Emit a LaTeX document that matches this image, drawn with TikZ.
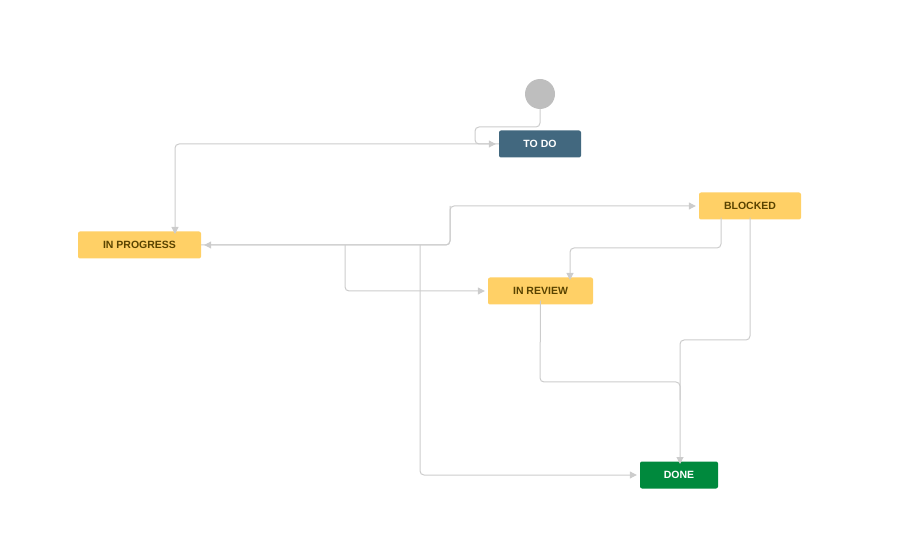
\documentclass[tikz,border=0pt]{standalone}
\usepackage{fontspec}
\setmainfont{Liberation Sans}
\usetikzlibrary{arrows.meta}
\definecolor{edge}{HTML}{CCCCCC}
\definecolor{yel}{HTML}{FFD066}
\definecolor{ytxt}{HTML}{594300}
\definecolor{todo}{HTML}{42687F}
\definecolor{done}{HTML}{00893D}
\begin{document}
\begin{tikzpicture}[x=1pt,y=-1pt,
  st/.style={rectangle,rounded corners=2pt,inner sep=0pt,font=\fontsize{10.5}{12}\selectfont\bfseries},
  ystate/.style={st,fill=yel,text=ytxt},
  conn/.style={draw=edge,line width=1pt,rounded corners=4pt,-{Triangle[length=7pt,width=7pt]}},
  plain/.style={draw=edge,line width=1pt,rounded corners=4pt}]
\useasboundingbox (0,0) rectangle (906,548);
\node[circle,fill=edge!120!black!0,fill={rgb,255:red,190;green,190;blue,190},minimum size=30pt,inner sep=0pt] (s) at (540,94) {};
\node[st,fill=todo,text=white,minimum width=82pt,minimum height=27pt] (todo) at (540,144) {TO DO};
\node[ystate,minimum width=123pt,minimum height=27pt] (ip) at (139.5,245) {IN PROGRESS};
\node[ystate,minimum width=102pt,minimum height=27pt] (bl) at (750,206) {BLOCKED};
\node[ystate,minimum width=105pt,minimum height=27pt] (ir) at (540.5,291) {IN REVIEW};
\node[st,fill=done,text=white,minimum width=78pt,minimum height=27pt] (dn) at (679,475) {DONE};
\coordinate (merge) at (680,382);
% start -> todo
\draw[conn] (s.south) -- (540,127) -- (475,127) -- (475,144) -- ([xshift=-3pt]todo.west);
% todo -> in progress
\draw[conn] (todo.west) -- (175,144) -- ([yshift=-3pt]175,231);
% in progress <-> blocked
\draw[conn] (ip.east) -- (450,245) -- (450,206) -- ([xshift=-3pt]bl.west);
\draw[conn] (450,206) -- (450,245) -- ([xshift=3pt]ip.east);
% in progress -> in review
\draw[conn] (345,245) -- (345,291) -- ([xshift=-3pt]ir.west);
% in progress -> done
\draw[conn] (420,245) -- (420,475) -- ([xshift=-3pt]dn.west);
% blocked -> in review
\draw[conn] ([xshift=-29pt,yshift=2pt]bl.south) -- (721,248) -- (570,248) -- ([yshift=-3pt]570,277);
% blocked -> done
\draw[conn] ([yshift=2pt]bl.south) -- (750,340) -- (680,340) -- ([yshift=-3pt]680,461);
% in review -> done
\draw[plain] ([yshift=4pt]ir.south) -- (540,382) -- (680,382) -- (680,400);
\end{tikzpicture}
\end{document}
